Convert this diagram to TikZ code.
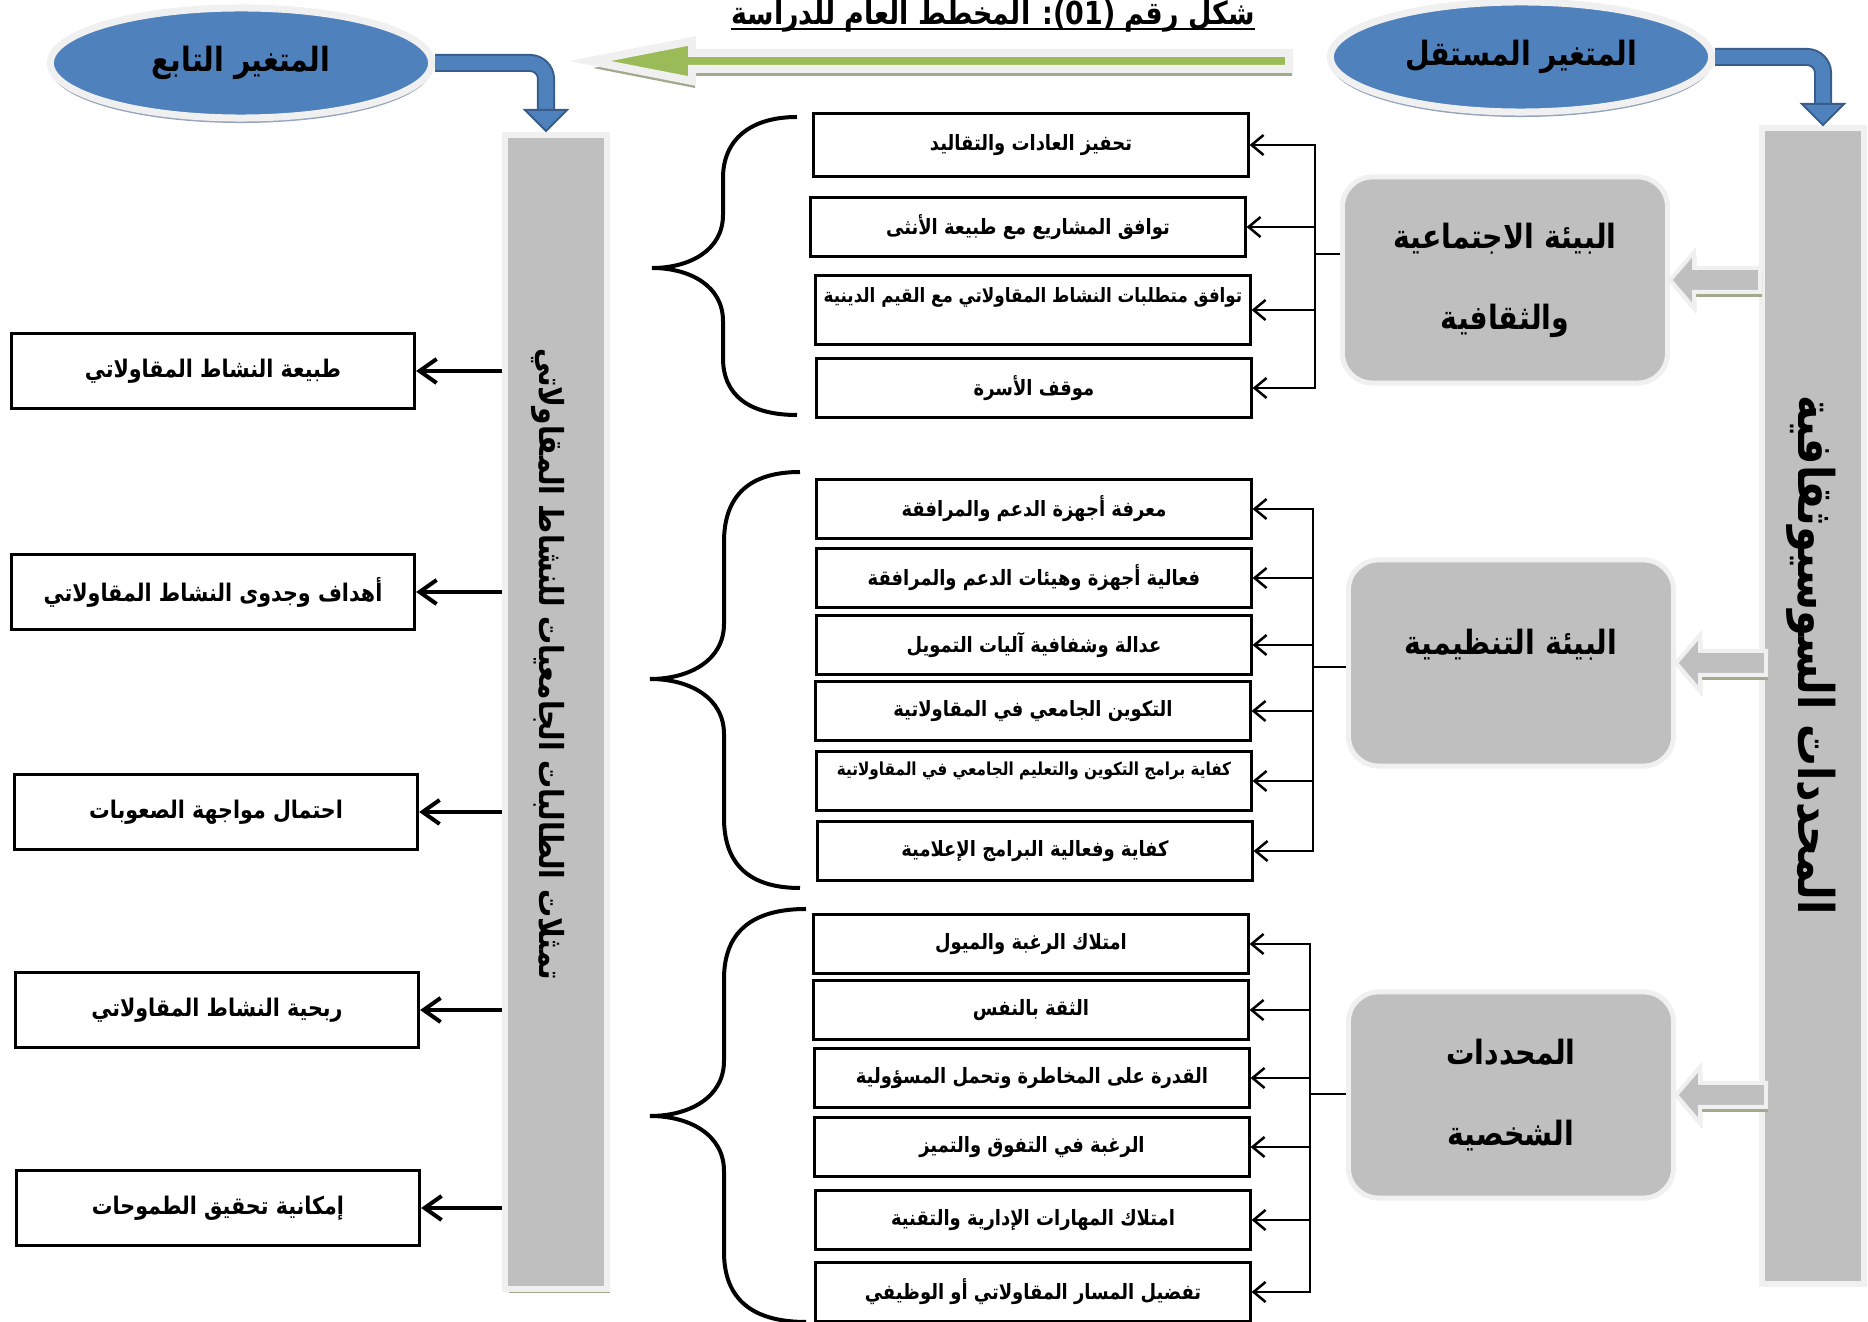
\documentclass[tikz,border=0pt]{standalone}
\usepackage{fontspec}
\usepackage{xcolor}
\usepackage{tikz}
\usetikzlibrary{shapes,arrows.meta,positioning,shadows,calc}

\newfontfamily\arabicfont[Script=Arabic, FakeStretch=0.85]{DejaVu Sans}
\TeXXeTstate=1
\newcommand{\artxt}[1]{{\arabicfont\bfseries\beginR #1\endR}}

\definecolor{ellblue}{RGB}{79,129,189}
\definecolor{darkblue}{RGB}{56,93,138}
\definecolor{barfill}{RGB}{191,191,191}
\definecolor{rim}{RGB}{240,240,240}
\definecolor{olivesh}{RGB}{160,170,140}
\definecolor{blueshade}{RGB}{150,165,190}
\definecolor{leafgreen}{RGB}{155,187,89}

\begin{document}
\begin{tikzpicture}[
    x=0.01cm, y=-0.01cm,
    item/.style={draw, line width=0.03cm, minimum width=4.34cm, minimum height=0.58cm, inner sep=0pt, font=\fontsize{6}{7.5}\selectfont},
    side/.style={draw, line width=0.03cm, minimum width=4.03cm, minimum height=0.75cm, inner sep=0pt, font=\fontsize{6.9}{8.5}\selectfont},
    env/.style={rounded corners=0.3cm, fill=barfill, draw=rim, line width=0.05cm, minimum width=3.25cm, minimum height=2.06cm, inner sep=0pt, align=center, font=\fontsize{9.5}{23}\selectfont},
    bar/.style={fill=barfill, draw=rim, line width=0.06cm, minimum width=1.01cm, drop shadow={shadow xshift=0.035cm, shadow yshift=-0.035cm, fill=olivesh, opacity=1}},
    bartext/.style={rotate=-90, inner sep=0pt},
    var/.style={ellipse, fill=ellblue, draw=rim, line width=0.07cm, minimum width=3.81cm, minimum height=1.1cm, inner sep=0pt, font=\fontsize{9.5}{11}\selectfont, drop shadow={shadow xshift=0cm, shadow yshift=-0.05cm, fill=blueshade, opacity=1}},
    arrow/.style={-{Straight Barb[length=0.12cm,width=0.2cm]}, line width=0.025cm},
    bigarrow/.style={-{Straight Barb[length=0.17cm,width=0.24cm]}, line width=0.04cm},
    bus/.style={line width=0.025cm},
    brace/.style={line width=0.04cm},
    bluebend/.style={draw=darkblue, line width=0.02cm, double=ellblue, double distance=0.14cm, rounded corners=0.16cm},
    bluehead/.style={fill=ellblue, draw=darkblue, line width=0.02cm},
    hollow/.style={fill=barfill, draw=rim, line width=0.04cm, drop shadow={shadow xshift=0.02cm, shadow yshift=-0.05cm, fill=olivesh, opacity=1}},
    bigleft/.style={fill=leafgreen, draw=rim, line width=0.08cm, drop shadow={shadow xshift=0.03cm, shadow yshift=-0.07cm, fill=olivesh, opacity=1}}
]
    \useasboundingbox (0,0) rectangle (1868,1322);

    % Titre
    \node[anchor=base, inner sep=0pt, font=\fontsize{9}{11}\selectfont] (title) at (993,25) {\artxt{شكل رقم \beginL(01)\endL: المخطط العام للدراسة}};
    \draw[line width=0.025cm] ([yshift=-0.04cm]title.base west) -- ([yshift=-0.04cm]title.base east);

    % Variables
    \node[var] (depvar) at (241,63) {\artxt{المتغير التابع}};
    \node[var] (indvar) at (1521,57) {\artxt{المتغير المستقل}};

    % Fleche verte
    \draw[bigleft] (1289,53) -- (692,53) -- (692,41) -- (590,61) -- (692,81) -- (692,69) -- (1289,69) -- cycle;

    % Barres
    \node[bar, minimum height=11.54cm] (depbar) at (556,712) {};
    \node[bar, minimum height=11.55cm] (indbar) at (1813,706) {};
    \node[bartext, font=\fontsize{9.4}{11}\selectfont] (deplabel) at (548,664) {\artxt{تمثلات الطالبات الجامعيات للنشاط المقاولاتي}};
    \node[bartext, font=\fontsize{14}{16}\selectfont] (indlabel) at (1811,655) {\artxt{المحددات السوسيوثقافية}};

    % Fleches bleues
    \coordinate (dephead) at (546,110);
    \coordinate (indhead) at (1823,104);
    \draw[bluebend] (depvar.east) -| (dephead);
    \draw[bluehead] (dephead) ++(-21,0) -- ++(42,0) -- ++(-21,21) -- cycle;
    \draw[bluebend] (indvar.east) -| (indhead);
    \draw[bluehead] (indhead) ++(-21,0) -- ++(42,0) -- ++(-21,21) -- cycle;

    % Dimensions
    \node[env] (socio) at (1505,280) {\artxt{البيئة الاجتماعية}\\\artxt{والثقافية}};
    \node[env, text height=0.3cm, text depth=0.46cm] (orgenv) at (1511,663) {\artxt{البيئة التنظيمية}};
    \node[env] (personal) at (1511,1095) {\artxt{المحددات}\\\artxt{الشخصية}};

    \draw[hollow] (socio.east) -- ++(24,-28) -- ++(0,16) -- ++(66,0) -- ++(0,24) -- ++(-66,0) -- ++(0,16) -- cycle;
    \draw[hollow] (orgenv.east) -- ++(24,-28) -- ++(0,16) -- ++(66,0) -- ++(0,24) -- ++(-66,0) -- ++(0,16) -- cycle;
    \draw[hollow] (personal.east) -- ++(24,-28) -- ++(0,16) -- ++(66,0) -- ++(0,24) -- ++(-66,0) -- ++(0,16) -- cycle;

    % Indicateurs - environnement social
    \node[item, minimum height=0.63cm] (habits) at (1031,145) {\artxt{تحفيز العادات والتقاليد}};
    \node[item] (female) at (1028,227) {\artxt{توافق المشاريع مع طبيعة الأنثى}};
    \node[item, minimum height=0.68cm, text depth=0.3cm, font=\fontsize{5.6}{7}\selectfont] (religion) at (1033,310) {\artxt{توافق متطلبات النشاط المقاولاتي مع القيم الدينية}};
    \node[item] (family) at (1034,388) {\artxt{موقف الأسرة}};

    % Indicateurs - environnement organisationnel
    \node[item] (know) at (1034,509) {\artxt{معرفة أجهزة الدعم والمرافقة}};
    \node[item] (effect) at (1034,578) {\artxt{فعالية أجهزة وهيئات الدعم والمرافقة}};
    \node[item] (fair) at (1034,645) {\artxt{عدالة وشفافية آليات التمويل}};
    \node[item] (training) at (1033,711) {\artxt{التكوين الجامعي في المقاولاتية}};
    \node[item, text depth=0.25cm, font=\fontsize{5.1}{6.5}\selectfont] (programs) at (1034,781) {\artxt{كفاية برامج التكوين والتعليم الجامعي في المقاولاتية}};
    \node[item] (media) at (1035,851) {\artxt{كفاية وفعالية البرامج الإعلامية}};

    % Indicateurs - determinants personnels
    \node[item] (desire) at (1031,944) {\artxt{امتلاك الرغبة والميول}};
    \node[item] (confidence) at (1031,1010) {\artxt{الثقة بالنفس}};
    \node[item] (risk) at (1032,1078) {\artxt{القدرة على المخاطرة وتحمل المسؤولية}};
    \node[item] (excel) at (1032,1147) {\artxt{الرغبة في التفوق والتميز}};
    \node[item] (skills) at (1033,1220) {\artxt{امتلاك المهارات الإدارية والتقنية}};
    \node[item] (career) at (1033,1292) {\artxt{تفضيل المسار المقاولاتي أو الوظيفي}};

    % Variable dependante
    \node[side] (nature) at (213,371) {\artxt{طبيعة النشاط المقاولاتي}};
    \node[side] (goals) at (213,592) {\artxt{أهداف وجدوى النشاط المقاولاتي}};
    \node[side] (hardship) at (216,812) {\artxt{احتمال مواجهة الصعوبات}};
    \node[side] (profit) at (217,1010) {\artxt{ربحية النشاط المقاولاتي}};
    \node[side] (ambition) at (218,1208) {\artxt{إمكانية تحقيق الطموحات}};

    % Accolades
    \draw[brace] (797,117) .. controls (750,117) and (723,140) .. (723,178) -- (723,215) .. controls (723,250) and (690,268) .. (652,268) .. controls (690,268) and (723,286) .. (723,321) -- (723,358) .. controls (723,396) and (750,415) .. (797,415);
    \draw[brace] (800,472) .. controls (750,472) and (724,495) .. (724,542) -- (724,624) .. controls (724,660) and (690,679) .. (650,679) .. controls (690,679) and (724,698) .. (724,734) -- (724,818) .. controls (724,865) and (750,888) .. (800,888);
    \draw[brace] (806,909) .. controls (752,909) and (724,932) .. (724,979) -- (724,1061) .. controls (724,1097) and (690,1116) .. (650,1116) .. controls (690,1116) and (724,1135) .. (724,1171) -- (724,1252) .. controls (724,1299) and (752,1322) .. (806,1322);

    % Arrows
    \coordinate (socbus) at (1315,254);
    \coordinate (orgbus) at (1313,667);
    \coordinate (perbus) at (1310,1094);
    \draw[bus] (socio.west |- socbus) -- (socbus);
    \draw[bus] (orgenv.west |- orgbus) -- (orgbus);
    \draw[bus] (personal.west |- perbus) -- (perbus);

    \draw[arrow] (socbus) |- (habits.east);
    \draw[arrow] (socbus) |- (female.east);
    \draw[arrow] (socbus) |- (religion.east);
    \draw[arrow] (socbus) |- (family.east);

    \draw[arrow] (orgbus) |- (know.east);
    \draw[arrow] (orgbus) |- (effect.east);
    \draw[arrow] (orgbus) |- (fair.east);
    \draw[arrow] (orgbus) |- (training.east);
    \draw[arrow] (orgbus) |- (programs.east);
    \draw[arrow] (orgbus) |- (media.east);

    \draw[arrow] (perbus) |- (desire.east);
    \draw[arrow] (perbus) |- (confidence.east);
    \draw[arrow] (perbus) |- (risk.east);
    \draw[arrow] (perbus) |- (excel.east);
    \draw[arrow] (perbus) |- (skills.east);
    \draw[arrow] (perbus) |- (career.east);

    \draw[bigarrow] (depbar.west |- nature.east) -- (nature.east);
    \draw[bigarrow] (depbar.west |- goals.east) -- (goals.east);
    \draw[bigarrow] (depbar.west |- hardship.east) -- (hardship.east);
    \draw[bigarrow] (depbar.west |- profit.east) -- (profit.east);
    \draw[bigarrow] (depbar.west |- ambition.east) -- (ambition.east);

\end{tikzpicture}
\end{document}
